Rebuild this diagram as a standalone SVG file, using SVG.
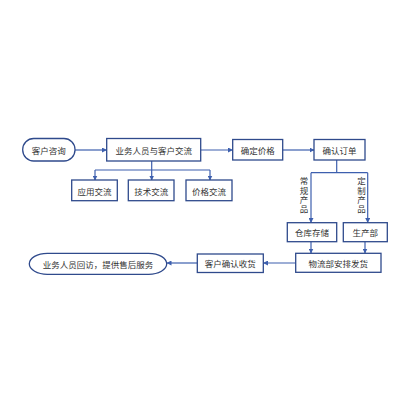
<svg xmlns="http://www.w3.org/2000/svg" width="400" height="400" viewBox="0 0 400 400">
<style>
.n{fill:#fff;stroke:#2f4a8c;stroke-width:1.3}
.t{font-family:"Noto Sans CJK SC","Noto Sans",sans-serif;font-size:8.5px;fill:#333;text-anchor:middle;dominant-baseline:central}
.v{font-family:"Noto Sans CJK SC","Noto Sans",sans-serif;font-size:8.5px;fill:#333;writing-mode:vertical-rl;text-orientation:upright;letter-spacing:0.6px}
.c{fill:none;stroke:#3d5fae;stroke-width:1.2}
</style>
<defs>
<marker id="a" viewBox="0 0 10 10" refX="9" refY="5" markerWidth="5" markerHeight="5" orient="auto-start-reverse" markerUnits="userSpaceOnUse">
<path d="M0,0 L10,5 L0,10 z" fill="#3d5fae"/>
</marker>
</defs>
<rect width="400" height="400" fill="#fff"/>
<g id="connectors">
<path class="c" d="M75,150 H106.5" marker-end="url(#a)"/>
<path class="c" d="M151.7,161 V170 M95,170 H210" />
<path class="c" d="M95,170 V180" marker-end="url(#a)"/>
<path class="c" d="M151.7,170 V180" marker-end="url(#a)"/>
<path class="c" d="M210,170 V180" marker-end="url(#a)"/>
<path class="c" d="M200.7,150 H232.5" marker-end="url(#a)"/>
<path class="c" d="M282.7,150 H314" marker-end="url(#a)"/>
<path class="c" d="M336.7,160 V172.7 M311,172.7 H367.7"/>
<path class="c" d="M311,172.7 V222.5" marker-end="url(#a)"/>
<path class="c" d="M367.7,172.7 V222.5" marker-end="url(#a)"/>
<path class="c" d="M311,241.7 V253" marker-end="url(#a)"/>
<path class="c" d="M365,241.7 V253" marker-end="url(#a)"/>
<path class="c" d="M295.7,263 H263.5" marker-end="url(#a)"/>
<path class="c" d="M197.3,263 H167" marker-end="url(#a)"/>
<text class="v" x="304" y="177">常规产品</text>
<text class="v" x="361.5" y="177">定制产品</text>
</g>
<g id="n1"><rect class="n" x="22.7" y="138.5" width="52.3" height="22.5" rx="11"/><text class="t" x="48.8" y="150">客户咨询</text></g>
<g id="n2"><rect class="n" x="106.7" y="138.5" width="94" height="22.5"/><text class="t" x="153.7" y="150">业务人员与客户交流</text></g>
<g id="n3"><rect class="n" x="71.7" y="180" width="45.6" height="20.7"/><text class="t" x="94.5" y="190.5">应用交流</text></g>
<g id="n4"><rect class="n" x="128.3" y="180" width="45.7" height="20.7"/><text class="t" x="151.2" y="190.5">技术交流</text></g>
<g id="n5"><rect class="n" x="186" y="180" width="46" height="20.7"/><text class="t" x="209" y="190.5">价格交流</text></g>
<g id="n6"><rect class="n" x="232.7" y="139.5" width="50" height="20.5"/><text class="t" x="257.7" y="150">确定价格</text></g>
<g id="n7"><rect class="n" x="314" y="139.5" width="51" height="20.5"/><text class="t" x="339.5" y="150">确认订单</text></g>
<g id="n8"><rect class="n" x="287.3" y="222.7" width="49.4" height="19"/><text class="t" x="312" y="232.2">仓库存储</text></g>
<g id="n9"><rect class="n" x="343.3" y="222.7" width="44" height="19"/><text class="t" x="365.3" y="232.2">生产部</text></g>
<g id="n10"><rect class="n" x="295.7" y="253.3" width="85.3" height="19"/><text class="t" x="338.3" y="263">物流部安排发货</text></g>
<g id="n11"><rect class="n" x="197.3" y="254" width="66" height="18.5"/><text class="t" x="230.3" y="263">客户确认收货</text></g>
<g id="n12"><rect class="n" x="29.3" y="253.3" width="137.4" height="21" rx="18" ry="10.5"/><text class="t" x="98" y="263.8">业务人员回访，提供售后服务</text></g>
</svg>
